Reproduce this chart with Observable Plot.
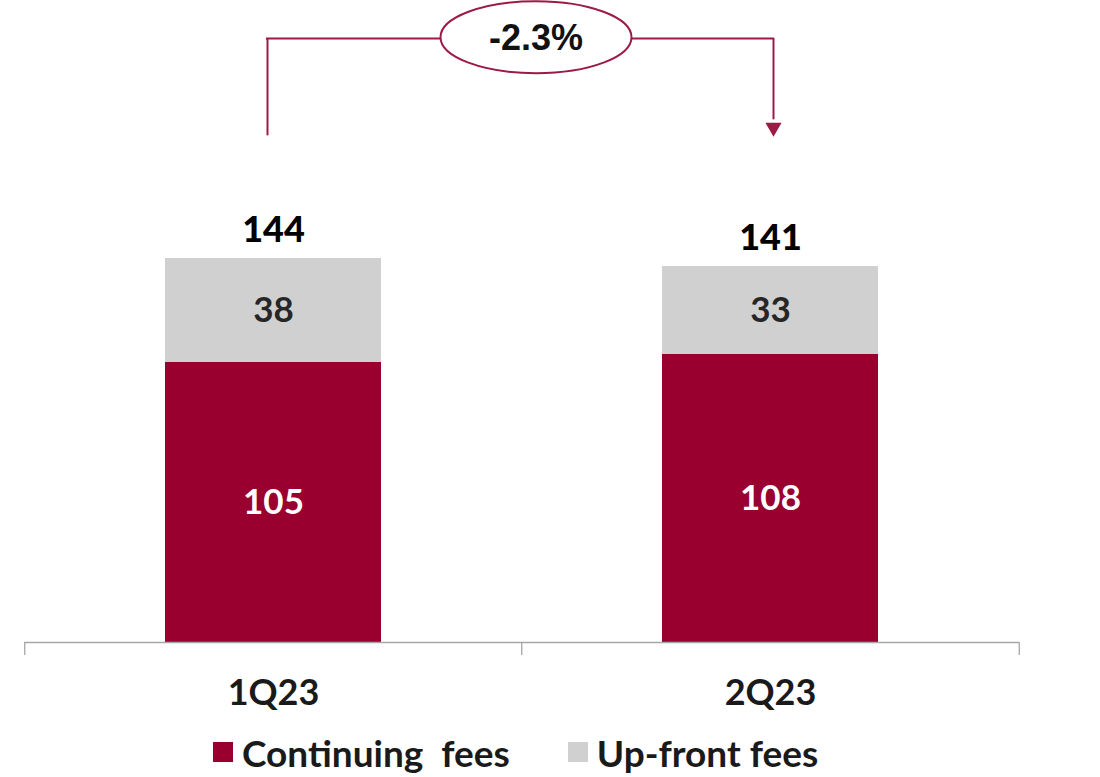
<!DOCTYPE html>
<html>
<head>
<meta charset="utf-8">
<script src="https://cdn.jsdelivr.net/npm/d3@7"></script>
<script src="https://cdn.jsdelivr.net/npm/@observablehq/plot@0.6"></script>
<style>
  html, body { margin: 0; padding: 0; background: #fff; }
  #chart { width: 1100px; }
  g[aria-label="change-ellipse"] { filter: drop-shadow(3px 4px 3px rgba(0,0,0,0.35)); }
  .legend { display: flex; align-items: center; margin-left: 213px; margin-top: 6px; height: 52px; font-family: Lato, sans-serif; font-weight: 700; font-size: 37px; color: #1a1a1a; }
  .legend .item { display: flex; align-items: center; white-space: pre; }
  .legend .sw { width: 20px; height: 20px; margin-right: 9px; }
  .legend .item + .item { margin-left: 58px; }
</style>
</head>
<body>
<div id="chart"></div>
<script>
// ---- data ----
const quarters = ["1Q23", "2Q23"];
const continuingFees = [105, 108];
const upfrontFees = [38, 33];
const totals = [144, 141];
const changeLabel = "-2.3%";
const seriesNames = ["Continuing  fees", "Up-front fees"];

// ---- styling ----
const RED = "#990030";
const GREY = "#d0d0d0";
const LINE = "#9c1a44";
const FONT = "Lato, sans-serif";

const rows = quarters.map((q, i) => ({
  q, cont: continuingFees[i], up: upfrontFees[i], total: totals[i]
}));

// bracket annotation (data units)
const bracketBase = 190, bracketTop = 226.5, arrowEnd = 196;

const W = 1100, H = 720, mL = 24, mR = 81;
const paddingInner = 0.566;
const step = (W - mL - mR) / quarters.length;
const bandwidth = step * (1 - paddingInner);

const ellipseSymbol = {
  draw(ctx) {
    const rx = 95.5, ry = 36, k = 0.5523;
    ctx.moveTo(-rx, 0);
    ctx.bezierCurveTo(-rx, -ry * k, -rx * k, -ry, 0, -ry);
    ctx.bezierCurveTo(rx * k, -ry, rx, -ry * k, rx, 0);
    ctx.bezierCurveTo(rx, ry * k, rx * k, ry, 0, ry);
    ctx.bezierCurveTo(-rx * k, ry, -rx, ry * k, -rx, 0);
    ctx.closePath();
  }
};

const chart = Plot.plot({
  width: W,
  height: H,
  marginLeft: mL,
  marginRight: mR,
  marginTop: 2,
  marginBottom: 78,
  x: {domain: quarters, paddingInner, paddingOuter: paddingInner / 2},
  y: {domain: [0, 240], axis: null},
  marks: [
    Plot.barY(rows, {x: "q", y1: 0, y2: "cont", fill: RED}),
    Plot.barY(rows, {x: "q", y1: "cont", y2: "total", fill: GREY}),
    Plot.ruleY([0], {stroke: "#a6a6a6", strokeWidth: 1.3}),
    Plot.ruleX(quarters, {x: d => d, dx: -step / 2, y1: 0, y2: -4.9, stroke: "#a6a6a6", strokeWidth: 1.3}),
    Plot.ruleX(quarters.slice(-1), {x: d => d, dx: step / 2, y1: 0, y2: -4.9, stroke: "#a6a6a6", strokeWidth: 1.3}),
    Plot.text(rows, {x: "q", y: d => d.cont / 2, text: d => String(d.cont), fill: "#ffffff",
      fontSize: 35, fontWeight: 700, fontFamily: FONT}),
    Plot.text(rows, {x: "q", y: d => (d.cont + d.total) / 2, text: d => String(d.up), fill: "#262626",
      fontSize: 35, fontWeight: 700, fontFamily: FONT}),
    Plot.text(rows, {x: "q", y: "total", text: d => String(d.total), fill: "#000000",
      lineAnchor: "bottom", dy: -17, fontSize: 36, fontWeight: 900, fontFamily: FONT}),
    // bracket
    Plot.ruleX([quarters[0]], {x: d => d, y1: bracketBase, y2: bracketTop, dx: -6, stroke: LINE, strokeWidth: 2}),
    Plot.ruleX([quarters[1]], {x: d => d, y1: arrowEnd, y2: bracketTop, dx: 3, stroke: LINE, strokeWidth: 2}),
    Plot.ruleY([bracketTop], {x1: () => quarters[0], x2: () => quarters[1],
      insetLeft: bandwidth / 2 - 7, insetRight: bandwidth / 2 - 4, stroke: LINE, strokeWidth: 2}),
    Plot.dot([{q: quarters[1], v: 193.2}], {x: "q", y: "v", dx: 3, symbol: "triangle", rotate: 180, r: 6, fill: LINE, stroke: "none"}),
    Plot.dot([{v: bracketTop + 0.5}], {y: "v", dx: 14, symbol: ellipseSymbol, r: 10, fill: "#ffffff",
      stroke: LINE, strokeWidth: 2, ariaLabel: "change-ellipse"}),
    Plot.text([changeLabel], {y: () => bracketTop, text: d => d, dx: 14, fill: "#111111",
      fontSize: 36, fontWeight: 700, fontFamily: "Liberation Sans, Arial, sans-serif"}),
    Plot.axisX({tickSize: 0, tickPadding: 37, fontSize: 36, fontWeight: 700, fontFamily: FONT, fill: "#1a1a1a", label: null})
  ]
});

document.getElementById("chart").appendChild(chart);

const legend = document.createElement("div");
legend.className = "legend";
[RED, GREY].forEach((c, i) => {
  const item = document.createElement("div");
  item.className = "item";
  const sw = document.createElement("span");
  sw.className = "sw";
  sw.style.background = c;
  const t = document.createElement("span");
  t.textContent = seriesNames[i];
  item.appendChild(sw);
  item.appendChild(t);
  legend.appendChild(item);
});
document.getElementById("chart").appendChild(legend);
</script>
</body>
</html>
